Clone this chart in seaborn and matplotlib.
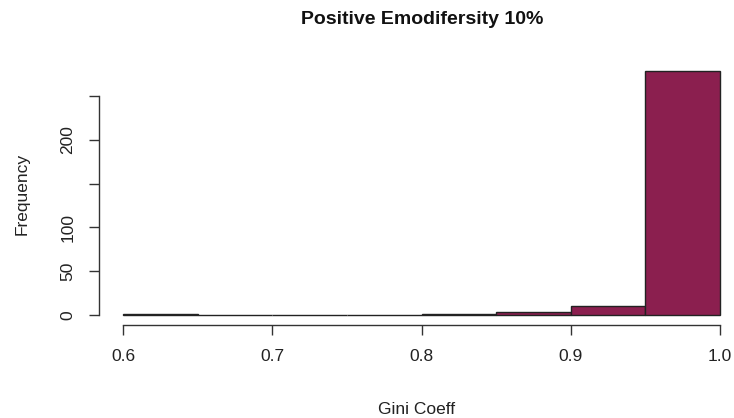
import matplotlib
matplotlib.use("Agg")
import matplotlib.pyplot as plt
import seaborn as sns
import numpy as np

bin_edges = [0.60, 0.65, 0.70, 0.75, 0.80, 0.85, 0.90, 0.95, 1.00]
counts = [1, 0, 0, 0, 1, 3, 10, 278]
x_ticks = [0.6, 0.7, 0.8, 0.9, 1.0]
x_tick_labels = ["0.6", "0.7", "0.8", "0.9", "1.0"]
y_ticks = [0, 50, 100, 150, 200, 250]
y_tick_labels = ["0", "50", "100", "", "200", ""]
title = "Positive Emodifersity 10%"
xlabel = "Gini Coeff"
ylabel = "Frequency"

sns.set_style("white")
plt.rcParams['font.family'] = ['Liberation Sans', 'DejaVu Sans']

W, H = 734, 418
fig = plt.figure(figsize=(W / 100, H / 100), dpi=100)
left_px, right_px, top_px, bot_px = 99, 734, 62, 325
ax = fig.add_axes([left_px / W, 1 - bot_px / H, (right_px - left_px) / W, (bot_px - top_px) / H])

centers = [(bin_edges[i] + bin_edges[i + 1]) / 2 for i in range(len(counts))]
sns.histplot(x=centers, weights=counts, bins=bin_edges, ax=ax,
             color="#8B1F4F", alpha=1.0, edgecolor="#222222", linewidth=1.0)

ppu_x = (720 - 123) / 0.4
ax.set_xlim(0.6 - (123 - left_px) / ppu_x, 0.6 + (right_px - 123) / ppu_x)
ppu_y = (315 - 96) / 250
ax.set_ylim(-(bot_px - 315) / ppu_y, (315 - top_px) / ppu_y)

for s in ["top", "right"]:
    ax.spines[s].set_visible(False)
ax.spines["left"].set_bounds(0, 250)
ax.spines["bottom"].set_bounds(0.6, 1.0)
for s in ["left", "bottom"]:
    ax.spines[s].set_color("#333333")
    ax.spines[s].set_linewidth(1.0)

ax.set_xticks(x_ticks)
ax.set_xticklabels(x_tick_labels)
ax.set_yticks(y_ticks)
ax.set_yticklabels(y_tick_labels, rotation=90, va="center")
ax.tick_params(axis="both", direction="out", length=7, width=1.0, color="#333333",
               labelsize=12.5, labelcolor="#222222", bottom=True, left=True)
ax.tick_params(axis="x", pad=10)
ax.tick_params(axis="y", pad=10)

ax.set_xlabel(xlabel, fontsize=12.5, color="#222222", labelpad=28)
ax.set_ylabel(ylabel, fontsize=12.5, color="#222222", labelpad=22)
fig.text(422 / W, 1 - 19 / H, title, ha="center", va="center",
         fontsize=14, fontweight="bold", color="#111111")

fig.savefig("out.png", dpi=100, facecolor="white")
